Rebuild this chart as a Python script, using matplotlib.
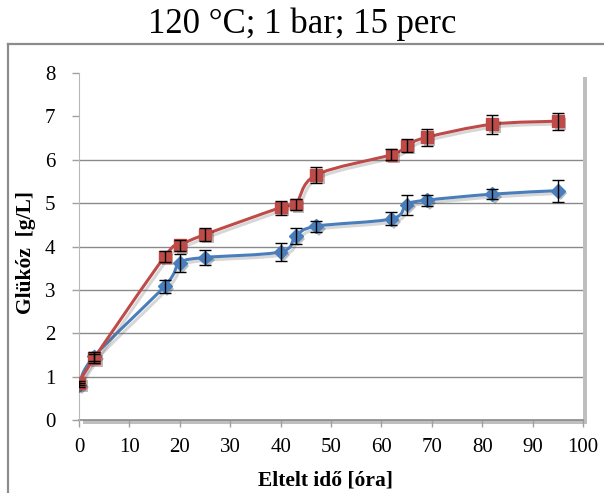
import numpy as np
import matplotlib
matplotlib.use("Agg")
import matplotlib.pyplot as plt
import matplotlib.patheffects as pe
from matplotlib.path import Path
from matplotlib.patches import PathPatch

# mérési idők [óra] és glükóz koncentrációk [g/L]
ido = [0, 3, 17, 20, 25, 40, 43, 47, 62, 65, 69, 82, 95]
glukoz_kek = [0.82, 1.47, 3.09, 3.62, 3.75, 3.88, 4.24, 4.47, 4.64, 4.97, 5.07, 5.21, 5.29]
hiba_kek = [0.05, 0.10, 0.15, 0.20, 0.17, 0.20, 0.19, 0.13, 0.15, 0.23, 0.13, 0.11, 0.25]
glukoz_piros = [0.86, 1.43, 3.77, 4.03, 4.28, 4.90, 4.97, 5.65, 6.12, 6.33, 6.52, 6.82, 6.89]
hiba_piros = [0.05, 0.10, 0.12, 0.12, 0.16, 0.16, 0.13, 0.19, 0.13, 0.15, 0.20, 0.22, 0.20]

cim = "120 °C; 1 bar; 15 perc"
x_felirat = "Eltelt idő [óra]"
y_felirat = "Glükóz  [g/L]"

plt.rcParams['font.family'] = ['Liberation Serif', 'DejaVu Serif']

KEK = '#4A7EBB'
PIROS = '#BE4B48'


def simitott_ut(x, y):
    # Excel-szerű simított vonal: Catmull-Rom -> köbös Bezier szakaszok
    pts = np.column_stack([x, y]).astype(float)
    n = len(pts)
    verts = [pts[0]]
    codes = [Path.MOVETO]
    for i in range(n - 1):
        p0 = pts[i - 1] if i > 0 else pts[i]
        p1 = pts[i]
        p2 = pts[i + 1]
        p3 = pts[i + 2] if i + 2 < n else pts[i + 1]
        c1 = p1 + (p2 - p0) / 6.0
        c2 = p2 - (p3 - p1) / 6.0
        verts += [c1, c2, p2]
        codes += [Path.CURVE4] * 3
    return Path(verts, codes)


fig = plt.figure(figsize=(6.04, 4.93), dpi=100)
ax = fig.add_axes([79 / 604, 1 - 420.3 / 493, 504 / 604, (420.3 - 73) / 493])

# külső keret (bal és felső él)
fig.add_artist(plt.Line2D([8 / 604, 8 / 604], [0, 1 - 44 / 493], color='#8c8c8c', lw=1.6,
                          transform=fig.transFigure))
fig.add_artist(plt.Line2D([8 / 604, 1], [1 - 44 / 493, 1 - 44 / 493], color='#8c8c8c', lw=1.6,
                          transform=fig.transFigure))

ax.patch.set_path_effects([pe.SimplePatchShadow(offset=(3, -3), shadow_rgbFace='#808080', alpha=0.5),
                           pe.Normal()])

for yy in range(1, 7):
    ax.axhline(yy, color='#8a8a8a', lw=1.0, zorder=1)

arnyek = [pe.SimpleLineShadow(offset=(2, -2), shadow_color='#606060', alpha=0.25, linewidth=2.2),
          pe.Normal()]

for yv, szin, marker, ms in [(glukoz_kek, KEK, 'D', 7), (glukoz_piros, PIROS, 's', 8.5)]:
    ut = PathPatch(simitott_ut(ido, yv), facecolor='none', edgecolor=szin, lw=2.2, zorder=3,
                   capstyle='round', joinstyle='round')
    ut.set_path_effects(arnyek)
    ax.add_patch(ut)
    pontok, = ax.plot(ido, yv, linestyle='none', marker=marker, ms=ms, color=szin,
                      markeredgecolor=szin, zorder=4)
    pontok.set_path_effects([pe.SimplePatchShadow(offset=(2, -2), alpha=0.3), pe.Normal()])

ax.errorbar(ido, glukoz_kek, yerr=hiba_kek, fmt='none', ecolor='black', elinewidth=1.0,
            capsize=4, capthick=1.0, zorder=5)
ax.errorbar(ido, glukoz_piros, yerr=hiba_piros, fmt='none', ecolor='black', elinewidth=1.0,
            capsize=4, capthick=1.0, zorder=5)

ax.set_xlim(0, 100)
ax.set_ylim(0, 8)
ax.set_xticks(range(0, 101, 10))
ax.set_yticks(range(0, 9))

for s in ['top', 'right']:
    ax.spines[s].set_visible(False)
ax.spines['left'].set_color('#b8b8b8')
ax.spines['bottom'].set_color('#8a8a8a')
ax.spines['bottom'].set_linewidth(1.2)
ax.spines['bottom'].set_zorder(2)

ax.tick_params(axis='both', direction='out', length=5, width=1, color='#a0a0a0', labelsize=15)
ax.tick_params(axis='y', pad=12)
ax.tick_params(axis='x', pad=8)

fig.text(302 / 604, 1 - 24 / 493, cim, ha='center', va='center', fontsize=25)
fig.text(326 / 604, 1 - 485 / 493, x_felirat, ha='center', va='baseline', fontsize=15.5,
         fontweight='bold')
fig.text(26 / 604, 1 - 253 / 493, y_felirat, ha='center', va='center', rotation=90,
         fontsize=15.5, fontweight='bold')

fig.savefig('out.png', dpi=100)
